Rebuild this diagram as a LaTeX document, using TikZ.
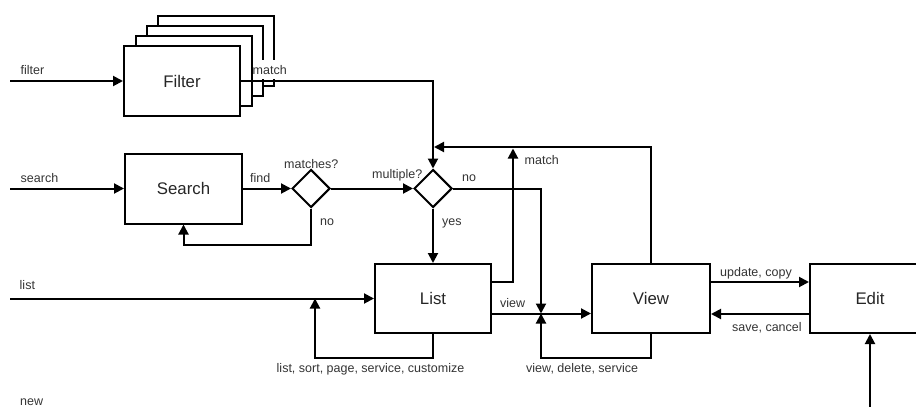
\documentclass[tikz,border=0pt]{standalone}
\usepackage{fontspec}
\setmainfont{Liberation Sans}
\usetikzlibrary{arrows.meta,shapes.geometric,calc}
\begin{document}
\begin{tikzpicture}[x=1pt,y=-1pt,
  box/.style={draw,line width=2pt,fill=white,minimum width=116pt,minimum height=70pt,inner sep=0pt,font=\fontsize{16.8}{20}\selectfont,text=black!85},
  dia/.style={draw,diamond,line width=2pt,minimum width=38pt,minimum height=38pt,inner sep=0pt,fill=white},
  arr/.style={line width=2pt,-{Triangle[length=10pt,width=10pt]}},
  lbl/.style={font=\fontsize{12.5}{14}\selectfont,anchor=base west,inner sep=0pt,text=black!80},
]
\useasboundingbox (0,0) rectangle (916,407);
\clip (0,0) rectangle (916,407);
% boxes
\node[box] (f4) at (216,51) {};
\node[box] (f3) at (205,61) {};
\node[box] (f2) at (194,71) {};
\node[box] (filter) at (182,81) {Filter};
\node[box,minimum width=117pt] (search) at (183.5,188.5) {Search};
\node[dia] (d1) at (311,188.5) {};
\node[dia] (d2) at (433,188.5) {};
\node[box,minimum height=69pt] (list) at (433,298.5) {List};
\node[box,minimum width=118pt,minimum height=69pt] (view) at (651,298.5) {View};
\node[box,minimum width=120pt,minimum height=69pt] (edit) at (870,298.5) {Edit};
% coordinates
\coordinate (fin) at (10,81);
\coordinate (sin) at (10,188.5);
\coordinate (lin) at (10,298.5);
\coordinate (j) at (541,313.5);
\coordinate (lj) at (315,298.5);
\coordinate (vt) at (434,147);
\coordinate (mt) at (513,148.5);
\coordinate (nin) at (870,412);
% connectors
\draw[arr] (fin) -- (filter.west);
\draw[arr] (filter.east) -| (d2.north);
\draw[arr] (sin) -- (search.west);
\draw[arr] (search.east) -- (d1.west);
\draw[arr] (d1.south) -- ++(0,36) -| (search.south);
\draw[arr] (d1.east) -- (d2.west);
\draw[arr] (d2.south) -- (list.north);
\draw[arr] (d2.east) -| (j);
\draw[arr] (lin) -- (list.west);
\draw[arr] (list.south) -- ++(0,23.5) -| (lj);
\draw[arr] ($(list.north east)+(0,19)$) -| (mt);
\draw[arr] (view.north) |- (vt);
\draw[arr] (list.east |- j) -- (view.west |- j);
\draw[arr] (view.south) -- ++(0,23.5) -| (j);
\draw[arr] ($(view.north east)+(0,19)$) -- ($(edit.north west)+(0,19)$);
\draw[arr] ($(edit.south west)+(0,-20)$) -- ($(view.south east)+(0,-20)$);
\draw[arr] (nin) -- (edit.south);
% labels
\node[lbl] (lfilter) at (20.5,74) {filter};
\node[lbl] (lsearch) at (20.5,182.5) {search};
\node[lbl] (llist) at (19.5,289.5) {list};
\node[lbl] (lnew) at (20,405.5) {new};
\node[lbl,fill=white,inner ysep=5pt] (lmatchf) at (252.5,74) {match};
\node[lbl] (lfind) at (250,182.5) {find};
\node[lbl] (lmatches) at (284,168) {matches?};
\node[lbl] (lmult) at (372,178.5) {multiple?};
\node[lbl] (lno2) at (462,181.5) {no};
\node[lbl] (lno1) at (320,225.5) {no};
\node[lbl] (lyes) at (442,225.5) {yes};
\node[lbl] (lmatchl) at (524.5,164) {match};
\node[lbl] (lview) at (500,307) {view};
\node[lbl] (lloopl) at (276.5,372) {list, sort, page, service, customize};
\node[lbl] (lloopv) at (526,372) {view, delete, service};
\node[lbl] (lupd) at (720,276) {update, copy};
\node[lbl] (lsave) at (732,331.5) {save, cancel};
\end{tikzpicture}
\end{document}
